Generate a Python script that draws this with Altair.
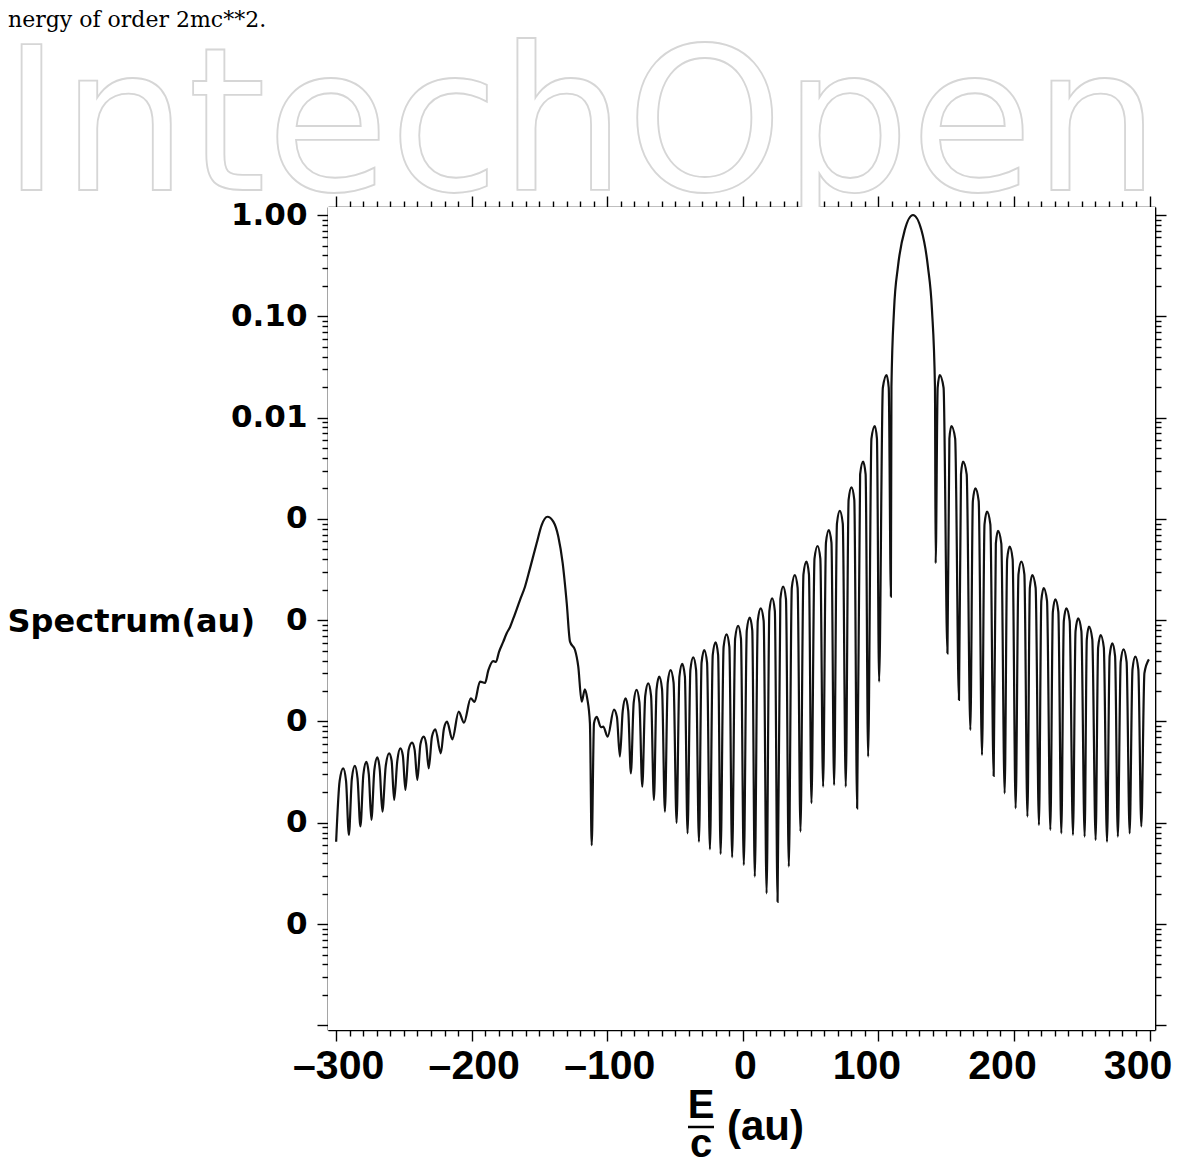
import altair as alt
import pandas as pd

# ---- spectrum curve (E/c in au, spectrum in au) ----
spec_x = [
    -300.0, -297.4, -294.8, -292.7, -290.6, -288.4, -286.2, -284.2, -282.1, -279.9,
    -277.7, -275.9, -274.0, -271.8, -269.6, -267.8, -265.9, -263.4, -260.9, -259.1,
    -257.2, -254.9, -252.6, -250.8, -248.9, -246.5, -244.0, -242.1, -240.1, -237.8,
    -235.4, -233.6, -231.7, -229.3, -226.8, -222.8, -220.5, -218.2, -214.3, -209.6,
    -205.7, -200.7, -197.9, -193.9, -190.2, -187.7, -184.1, -182.1, -179.9, -176.7,
    -174.2, -171.7, -169.3, -164.4, -160.7, -157.0, -152.1, -148.4, -144.2, -139.8,
    -136.1, -132.9, -129.9, -127.5, -123.8, -121.4, -118.9, -116.5, -114.8, -112.8,
    -111.5, -109.8, -107.8, -104.7, -103.0, -99.7, -95.1, -92.9, -90.7, -88.6,
    -86.5, -84.55, -82.6, -80.5, -78.4, -76.3, -74.2, -72.0, -69.8, -67.7,
    -65.6, -63.65, -61.7, -59.6, -57.5, -55.4, -53.3, -51.1, -48.9, -46.8,
    -44.7, -42.75, -40.8, -38.7, -36.6, -34.5, -32.4, -30.45, -28.5, -26.4,
    -24.3, -22.2, -20.1, -18.25, -16.4, -14.2, -12.0, -9.95, -7.9, -5.7,
    -3.5, -1.4, 0.7, 2.9, 5.1, 6.95, 8.8, 11.0, 13.2, 15.35,
    17.5, 19.55, 21.6, 23.6, 25.6, 27.65, 29.7, 31.8, 33.9, 36.1,
    38.3, 40.4, 42.5, 44.7, 46.9, 48.75, 50.6, 52.85, 55.1, 57.15,
    59.2, 61.3, 63.4, 65.35, 67.3, 69.4, 71.5, 73.7, 75.9, 78.0,
    80.1, 82.2, 84.3, 86.5, 88.7, 90.55, 92.4, 94.85, 97.3, 98.9,
    100.5, 103.25, 106.0, 107.6, 109.2, 109.6, 111.5, 114.4, 119.4, 125.5,
    131.7, 136.5, 139.5, 141.7, 142.2, 143.7, 145.2, 148.05, 150.9, 152.35,
    153.8, 156.6, 159.4, 160.9, 162.4, 165.1, 167.8, 169.65, 171.5, 173.95,
    176.4, 178.25, 180.1, 182.55, 185.0, 186.6, 188.2, 190.65, 193.1, 194.95,
    196.8, 199.0, 201.2, 203.3, 205.4, 207.65, 209.9, 211.7, 213.5, 215.95,
    218.4, 220.15, 221.9, 224.35, 226.8, 228.65, 230.5, 232.7, 234.9, 236.75,
    238.6, 241.05, 243.5, 245.4, 247.3, 249.7, 252.1, 253.7, 255.3, 257.75,
    260.2, 262.05, 263.9, 266.25, 268.6, 270.55, 272.5, 274.55, 276.6, 278.7,
    280.8, 283.05, 285.3, 287.4, 289.5, 291.7, 293.9, 296.2, 299.5,
]
spec_y = [
    6.5e-7, 2.59e-6, 3.45e-6, 2.59e-6, 7.6e-7, 2.73e-6, 3.64e-6, 2.73e-6, 9.2e-7, 3.0e-6,
    4.0e-6, 3.0e-6, 1.07e-6, 3.32e-6, 4.43e-6, 3.32e-6, 1.29e-6, 3.64e-6, 4.85e-6, 4.12e-6,
    1.68e-6, 4.07e-6, 5.43e-6, 4.62e-6, 2.11e-6, 5.25e-6, 6.18e-6, 5.25e-6, 2.65e-6, 6.0e-6,
    7.08e-6, 6.0e-6, 3.45e-6, 7.1e-6, 8.37e-6, 4.85e-6, 8.5e-6, 9.95e-6, 6.67e-6, 1.25e-5,
    9.73e-6, 1.69e-5, 1.56e-5, 2.47e-5, 2.40e-5, 3.22e-5, 3.95e-5, 3.87e-5, 4.85e-5, 6.14e-5,
    7.43e-5, 8.57e-5, 1.04e-4, 1.58e-4, 2.14e-4, 3.25e-4, 5.74e-4, 8.7e-4, 1.05e-3, 9.4e-4,
    6.67e-4, 3.65e-4, 1.47e-4, 6.14e-5, 5.08e-5, 3.48e-5, 1.57e-5, 2.08e-5, 1.69e-5, 9.6e-6,
    6.0e-7, 9.6e-6, 1.11e-5, 8.77e-6, 8.9e-6, 7.08e-6, 1.31e-5, 1.11e-5, 4.5e-6, 1.27e-5,
    1.69e-5, 1.27e-5, 3.08e-6, 1.54e-5, 2.05e-5, 1.54e-5, 2.27e-6, 1.79e-5, 2.38e-5, 1.79e-5,
    1.68e-6, 2.08e-5, 2.77e-5, 2.08e-5, 1.29e-6, 2.42e-5, 3.22e-5, 2.42e-5, 1.0e-6, 2.78e-5,
    3.70e-5, 2.78e-5, 7.87e-7, 3.23e-5, 4.3e-5, 3.23e-5, 6.5e-7, 3.81e-5, 5.08e-5, 3.81e-5,
    5.47e-7, 4.54e-5, 6.05e-5, 4.54e-5, 4.92e-7, 5.45e-5, 7.26e-5, 5.45e-5, 4.56e-7, 6.58e-5,
    8.77e-5, 6.58e-5, 3.83e-7, 7.95e-5, 1.06e-4, 7.95e-5, 2.94e-7, 9.83e-5, 1.31e-4, 9.83e-5,
    2.01e-7, 1.23e-4, 1.64e-4, 1.23e-4, 1.66e-7, 1.61e-4, 2.14e-4, 1.61e-4, 3.69e-7, 2.09e-4,
    2.79e-4, 2.09e-4, 8.17e-7, 2.84e-4, 3.78e-4, 2.84e-4, 1.56e-6, 4.05e-4, 5.40e-4, 4.05e-4,
    2.27e-6, 5.83e-4, 7.77e-4, 5.83e-4, 2.36e-6, 9.0e-4, 1.20e-3, 9.0e-4, 2.27e-6, 1.54e-3,
    2.05e-3, 1.54e-3, 1.39e-6, 2.75e-3, 3.67e-3, 2.75e-3, 4.5e-6, 6.2e-3, 8.26e-3, 6.2e-3,
    2.47e-5, 1.97e-2, 2.63e-2, 1.97e-2, 1.71e-4, 2.02e-2, 0.115, 0.309, 0.711, 1.0,
    0.711, 0.309, 0.115, 2.02e-2, 3.65e-4, 1.97e-2, 2.63e-2, 1.97e-2, 4.71e-5, 6.2e-3,
    8.26e-3, 6.2e-3, 1.63e-5, 2.75e-3, 3.67e-3, 2.75e-3, 8.24e-6, 1.5e-3, 2.0e-3, 1.5e-3,
    4.67e-6, 8.85e-4, 1.18e-3, 8.85e-4, 2.9e-6, 5.7e-4, 7.6e-4, 5.7e-4, 1.95e-6, 3.99e-4,
    5.32e-4, 3.99e-4, 1.39e-6, 2.84e-4, 3.78e-4, 2.84e-4, 1.15e-6, 2.09e-4, 2.79e-4, 2.09e-4,
    9.5e-7, 1.55e-4, 2.07e-4, 1.55e-4, 8.5e-7, 1.21e-4, 1.61e-4, 1.21e-4, 7.87e-7, 9.83e-5,
    1.31e-4, 9.83e-5, 7.58e-7, 7.8e-5, 1.04e-4, 7.8e-5, 7.3e-7, 6.47e-5, 8.63e-5, 6.47e-5,
    6.76e-7, 5.36e-5, 7.14e-5, 5.36e-5, 6.5e-7, 4.43e-5, 5.91e-5, 4.43e-5, 7.3e-7, 3.87e-5,
    5.16e-5, 3.87e-5, 7.87e-7, 3.27e-5, 4.36e-5, 3.27e-5, 9.2e-7, 3.0e-5, 4.1e-5,
]

# ---- axes / texts ----
x_ticks = list(range(-300, 301, 10))
y_decades = [1e-8, 1e-7, 1e-6, 1e-5, 1e-4, 1e-3, 1e-2, 1e-1]
y_ticks = [m * d for d in y_decades for m in range(1, 10)] + [1.0]
y_title = "Spectrum(au)"
x_title_num = "E"
x_title_den = "c"
x_title_unit = "(au)"
watermark = "IntechOpen"
header_text = "nergy of order 2mc**2."

W, H = 827, 823
NARROW = "Liberation Sans, Arial, sans-serif"
WIDE = "DejaVu Sans, Liberation Sans, sans-serif"

MAJ_X = "datum.value % 100 === 0"
MAJ_Y = "abs(log(datum.value)/LN10 - round(log(datum.value)/LN10)) < 0.01"

xscale = alt.Scale(domain=[-306, 304], nice=False, zero=False)
yscale = alt.Scale(type="log", domain=[9e-9, 1.2], nice=False)

common = dict(domainColor="black", domainWidth=1.7, tickColor="black", tickWidth=1.4,
              grid=False, labelOverlap=False, title=None)

x_bottom = alt.Axis(
    orient="bottom", values=x_ticks,
    tickSize={"condition": {"test": MAJ_X, "value": 11}, "value": 6},
    labelExpr="datum.value % 100 === 0 ? (datum.value < 0 ? '\u2013' + abs(datum.value) : '' + datum.value) : ''",
    labelOffset={"condition": {"test": "datum.value > 0", "value": -12}, "value": 2},
    labelFont=NARROW, labelFontSize=41, labelFontWeight="bold", labelColor="black",
    labelPadding=5, labelFlush=False, labelBound=False, **common)
y_left = alt.Axis(
    orient="left", values=y_ticks,
    tickSize={"condition": {"test": MAJ_Y, "value": 11}, "value": 6},
    labelExpr="(" + MAJ_Y + " && datum.value > 5e-8) ? (datum.value >= 0.01 ? format(datum.value, '.2f') : '0') : ''",
    labelFont=WIDE, labelFontSize=31, labelFontWeight="bold", labelColor="black",
    labelPadding=10, labelFlush=False, labelBound=False, **common)
x_top = alt.Axis(
    orient="top", values=x_ticks, labels=False,
    tickSize={"condition": {"test": MAJ_X, "value": 11}, "value": 6}, **common)
y_right = alt.Axis(
    orient="right", values=y_ticks, labels=False,
    tickSize={"condition": {"test": MAJ_Y, "value": 11}, "value": 6}, **common)

df = pd.DataFrame({"E": spec_x, "S": spec_y})

# watermark and header (outside the plot area)
wm = alt.Chart(pd.DataFrame({"t": [watermark]})).mark_text(
    align="left", baseline="alphabetic", font="DejaVu Sans", fontSize=200,
    fill="white", stroke="#d6d6d6", strokeWidth=1.8
).encode(text="t:N", x=alt.value(-326), y=alt.value(-17))

hdr = alt.Chart(pd.DataFrame({"t": [header_text]})).mark_text(
    align="left", baseline="alphabetic", font="DejaVu Serif", fontSize=22, color="black"
).encode(text="t:N", x=alt.value(-320), y=alt.value(-180))

bg = alt.Chart(pd.DataFrame({"t": [0]})).mark_rect(fill="white").encode(
    x=alt.value(0), x2=alt.value(W), y=alt.value(0), y2=alt.value(H))

line = alt.Chart(df).mark_line(interpolate="monotone", color="#111111", strokeWidth=2.2).encode(
    x=alt.X("E:Q", scale=xscale, axis=x_bottom),
    y=alt.Y("S:Q", scale=yscale, axis=y_left),
)
frame2 = alt.Chart(df).mark_line(opacity=0).encode(
    x=alt.X("E:Q", scale=xscale, axis=x_top),
    y=alt.Y("S:Q", scale=yscale, axis=y_right),
)

ytitle = alt.Chart(pd.DataFrame({"t": [y_title]})).mark_text(
    align="right", baseline="middle", font=WIDE, fontSize=32, fontWeight="bold", color="black"
).encode(text="t:N", x=alt.value(-73), y=alt.value(415))

num = alt.Chart(pd.DataFrame({"t": [x_title_num]})).mark_text(
    align="center", baseline="middle", font=NARROW, fontSize=40, fontWeight="bold", color="black"
).encode(text="t:N", x=alt.value(373), y=alt.value(899))
den = alt.Chart(pd.DataFrame({"t": [x_title_den]})).mark_text(
    align="center", baseline="middle", font=NARROW, fontSize=40, fontWeight="bold", color="black"
).encode(text="t:N", x=alt.value(373), y=alt.value(938))
bar = alt.Chart(pd.DataFrame({"t": [0]})).mark_rule(color="black", strokeWidth=2.5).encode(
    x=alt.value(360), x2=alt.value(386), y=alt.value(920))
unit = alt.Chart(pd.DataFrame({"t": [x_title_unit]})).mark_text(
    align="left", baseline="middle", font=NARROW, fontSize=42, fontWeight="bold", color="black"
).encode(text="t:N", x=alt.value(399), y=alt.value(920))

chart = alt.layer(wm, hdr, bg, line, frame2, ytitle, num, den, bar, unit).resolve_scale(
    x="independent", y="independent"
).properties(
    width=W, height=H,
    autosize=alt.AutoSizeParams(type="none"),
    padding={"left": 320, "top": 199, "right": 23, "bottom": 134},
).configure_view(strokeWidth=0)

chart.save("out.html", embed_options={"renderer": "svg", "actions": False})
